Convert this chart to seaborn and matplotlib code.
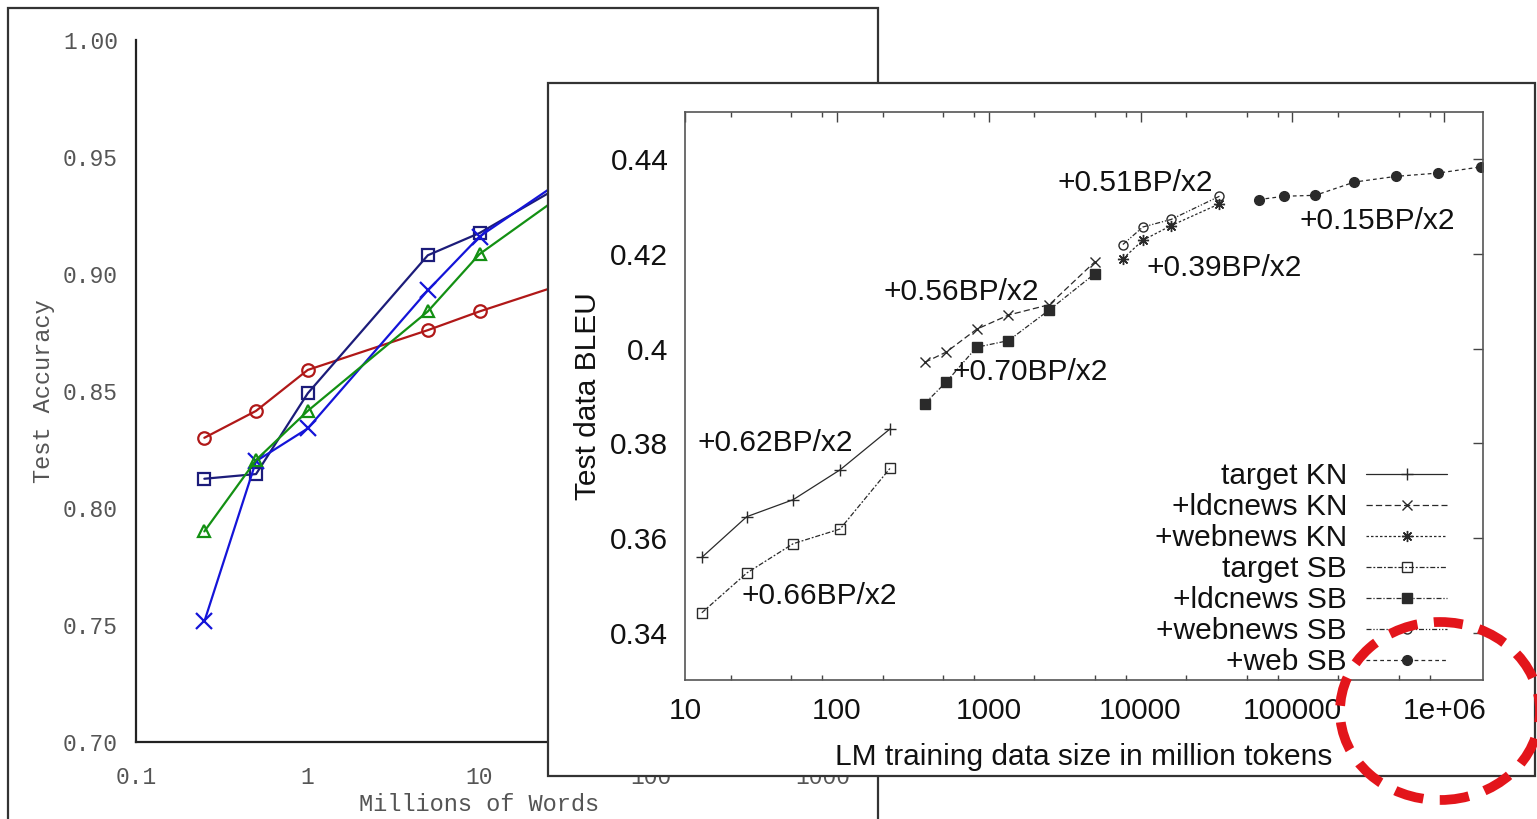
import numpy as np
import pandas as pd
import matplotlib
matplotlib.use("Agg")
import matplotlib.pyplot as plt
import seaborn as sns
from matplotlib.patches import Rectangle, Ellipse
from matplotlib.ticker import FixedLocator, NullFormatter, LogLocator, NullLocator

# ---------------- Left (background) chart data ----------------
words_millions = [0.25, 0.5, 1, 5, 10, 100, 1000]
acc_red_circles = [0.830, 0.8415, 0.859, 0.876, 0.884, 0.908, 0.935]
acc_navy_squares = [0.8125, 0.8145, 0.849, 0.908, 0.9175, 0.960, 0.975]
acc_blue_x = [0.7515, 0.820, 0.834, 0.893, 0.916, 0.966, 0.975]
acc_green_triangles = [0.790, 0.8205, 0.8415, 0.884, 0.9085, 0.961, 0.972]
left_xticks = [0.1, 1, 10, 100, 1000]
left_xticklabels = ["0.1", "1", "10", "100", "1000"]
left_yticks = [0.70, 0.75, 0.80, 0.85, 0.90, 0.95, 1.00]

# ---------------- Right (inset) chart data ----------------
target_x = [12.9, 25.5, 51.6, 105, 225]
target_kn = [0.3559, 0.3645, 0.3681, 0.3744, 0.3831]
target_sb = [0.3442, 0.3526, 0.3588, 0.3619, 0.3748]
ldc_x = [379, 527, 832, 1350, 2510, 4980]
ldc_kn = [0.3971, 0.3993, 0.4041, 0.4071, 0.4093, 0.4183]
ldc_sb = [0.3884, 0.3930, 0.4003, 0.4017, 0.4082, 0.4158]
webnews_x = [7650, 10350, 15900, 33100]
webnews_kn = [0.4190, 0.4229, 0.4260, 0.4306]
webnews_sb = [0.4220, 0.4257, 0.4273, 0.4322]
web_x = [60000, 88500, 141600, 256000, 481000, 912000, 1740000]
web_sb = [0.4315, 0.4322, 0.4324, 0.4352, 0.4364, 0.4371, 0.4384]

right_xticks = [10, 100, 1000, 10000, 100000, 1000000]
right_xticklabels = ["10", "100", "1000", "10000", "100000", "1e+06"]
right_yticks = [0.34, 0.36, 0.38, 0.40, 0.42, 0.44]
right_yticklabels = ["0.34", "0.36", "0.38", "0.4", "0.42", "0.44"]

annot_text = ["+0.62BP/x2", "+0.66BP/x2", "+0.56BP/x2", "+0.70BP/x2",
              "+0.51BP/x2", "+0.39BP/x2", "+0.15BP/x2"]
annot_x = [12.0, 23.7, 204, 580, 2840, 10900, 111000]
annot_y = [0.380, 0.3478, 0.4119, 0.395, 0.4349, 0.417, 0.4269]

# ---------------- Figure ----------------
sns.set_style("white")
plt.rcParams['font.family'] = ['Liberation Sans', 'DejaVu Sans']

W, H = 1537, 819
fig = plt.figure(figsize=(W / 100, H / 100), dpi=100)
fig.patch.set_facecolor("white")

def fx(px):
    return px / W

def fy(py):
    return 1 - py / H

# Left outer frame (extends past the bottom edge)
fig.add_artist(Rectangle((fx(8), -0.1), fx(878) - fx(8), fy(8) + 0.1,
                         transform=fig.transFigure, fill=False,
                         edgecolor="#333333", linewidth=1.6, zorder=0.5))

# Left axes
axL = fig.add_axes([fx(136), fy(742), fx(823) - fx(136), fy(40) - fy(742)])
axL.set_zorder(1)
axL.set_facecolor("none")
mono = "Liberation Mono"
left_series = [
    (acc_red_circles, "#b01818", "o"),
    (acc_navy_squares, "#1c1c7a", "s"),
    (acc_blue_x, "#1414d8", "x"),
    (acc_green_triangles, "#139013", "^"),
]
for vals, col, mk in left_series:
    sns.lineplot(x=words_millions, y=vals, ax=axL, color=col, marker=mk,
                 markersize=9 if mk != "x" else 11, markerfacecolor="none",
                 markeredgecolor=col, markeredgewidth=1.6, linewidth=1.6,
                 legend=False, estimator=None)
axL.set_xscale("log")
axL.set_xlim(0.1, 1000)
axL.set_ylim(0.70, 1.00)
axL.xaxis.set_major_locator(FixedLocator(left_xticks))
axL.xaxis.set_minor_locator(NullLocator())
axL.set_xticklabels(left_xticklabels)
axL.set_yticks(left_yticks)
axL.set_yticklabels([f"{v:.2f}" for v in left_yticks])
axL.yaxis.set_minor_locator(FixedLocator(np.arange(0.725, 1.0, 0.05)))
for s in ["top", "right"]:
    axL.spines[s].set_visible(False)
for s in ["left", "bottom"]:
    axL.spines[s].set_color("#222222")
    axL.spines[s].set_linewidth(1.6)
axL.tick_params(axis="y", which="major", direction="out", length=6,
                width=1.4, color="#222222", labelsize=16.5, labelcolor="#555555", pad=7)
axL.tick_params(axis="x", which="major", direction="out", length=6,
                width=1.4, color="#222222", labelsize=16.5, labelcolor="#555555", pad=11)
axL.tick_params(axis="y", which="minor", direction="out", length=3,
                width=1.0, color="#222222")
for lab in axL.get_xticklabels() + axL.get_yticklabels():
    lab.set_family(mono)
axL.set_xlabel("Millions of Words", family=mono, fontsize=17, color="#555555", labelpad=3)
axL.set_ylabel("Test Accuracy", family=mono, fontsize=17, color="#555555", labelpad=6)

# Inset white panel with frame
fig.add_artist(Rectangle((fx(548), fy(776)), fx(1535) - fx(548), fy(83) - fy(776),
                         transform=fig.transFigure, facecolor="white",
                         edgecolor="#333333", linewidth=1.6, zorder=2))

# Right axes
axR = fig.add_axes([fx(685), fy(680), fx(1483) - fx(685), fy(112) - fy(680)])
axR.set_zorder(3)
axR.set_facecolor("none")
lc = "#2a2a2a"
right_series = [
    ("target KN", target_x, target_kn, "+", "-", lc, 8),
    ("+ldcnews KN", ldc_x, ldc_kn, "x", (0, (5, 2.5)), lc, 7),
    ("+webnews KN", webnews_x, webnews_kn, (8, 2, 0), (0, (2, 1.6)), lc, 8),
    ("target SB", target_x, target_sb, "s", (0, (4, 1.5, 1.5, 1.5)), "none", 6.5),
    ("+ldcnews SB", ldc_x, ldc_sb, "s", (0, (4, 1.5, 1, 1.5)), lc, 7),
    ("+webnews SB", webnews_x, webnews_sb, "o", (0, (4, 1.5, 1, 1.5, 1, 1.5)), "none", 6.5),
    ("+web SB", web_x, web_sb, "o", (0, (3, 2.5)), lc, 7),
]
handles = []
for name, xs, ys, mk, ls, mfc, ms in right_series:
    sns.lineplot(x=xs, y=ys, ax=axR, color=lc, marker=mk, markersize=ms,
                 markerfacecolor=mfc, markeredgecolor=lc, markeredgewidth=1.0,
                 linewidth=0.9, linestyle=ls, legend=False, estimator=None,
                 label=name)
    handles.append(axR.lines[-1])

axR.set_xscale("log")
axR.set_xlim(10, 1.8e6)
axR.set_ylim(0.33, 0.45)
axR.xaxis.set_major_locator(FixedLocator(right_xticks))
axR.xaxis.set_minor_locator(LogLocator(base=10, subs=[2, 5, 8], numticks=20))
axR.xaxis.set_minor_formatter(NullFormatter())
axR.set_xticklabels(right_xticklabels)
axR.set_yticks(right_yticks)
axR.set_yticklabels(right_yticklabels)
for s in axR.spines.values():
    s.set_color("#555555")
    s.set_linewidth(1.2)
axR.tick_params(axis="both", which="major", direction="in", length=7, width=1.0,
                color="#444444", labelsize=21.5, labelcolor="#111111",
                top=True, right=True, pad=12)
axR.tick_params(axis="x", which="minor", direction="in", length=3.5, width=1.0,
                color="#444444", top=True, bottom=True)
axR.set_xlabel("LM training data size in million tokens", fontsize=21.5,
               color="#111111", labelpad=13)
axR.set_ylabel("Test data BLEU", fontsize=21.5, color="#111111", labelpad=6)

for t, x, y in zip(annot_text, annot_x, annot_y):
    axR.text(x, y, t, fontsize=21.5, color="#111111", ha="left", va="center")

leg = axR.legend(handles=handles, labels=[r[0] for r in right_series],
                 loc="upper right", bbox_to_anchor=(0.955, 0.383),
                 frameon=False, markerfirst=False, fontsize=21.5,
                 handlelength=2.7, handletextpad=0.65, labelspacing=0.1,
                 borderpad=0, borderaxespad=0)
for t in leg.get_texts():
    t.set_color("#111111")

# Red dashed ellipse highlight
fig.add_artist(Ellipse((fx(1440), fy(711)), 200 / W, 178 / H,
                       transform=fig.transFigure, fill=False,
                       edgecolor="#e3151b", linewidth=7,
                       linestyle=(0, (3, 1.7)), zorder=5))

fig.savefig("out.png", dpi=100, facecolor="white")
